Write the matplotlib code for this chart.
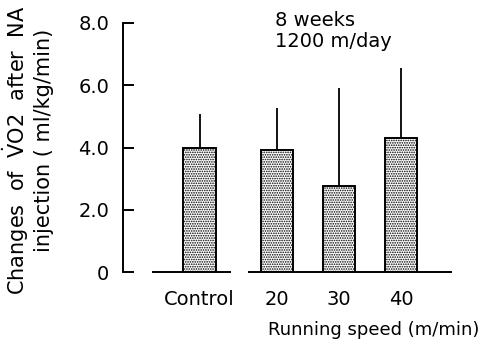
import matplotlib.pyplot as plt

plt.rcParams['font.family'] = 'DejaVu Sans'
plt.rcParams['mathtext.fontset'] = 'dejavusans'
plt.rcParams['hatch.linewidth'] = 0.8

groups = ["Control", "20", "30", "40"]
means = [4.0, 3.93, 2.77, 4.29]
sd_up = [1.08, 1.34, 3.15, 2.27]
yticks = [0, 2.0, 4.0, 6.0, 8.0]
ytick_labels = ["0", "2.0", "4.0", "6.0", "8.0"]

W, H = 487, 345
fig = plt.figure(figsize=(W / 100, H / 100), dpi=100)
ax = fig.add_axes([123 / W, (H - 272) / H, (452 - 123) / W, 249 / H])

pos = [0, 1.25, 2.25, 3.25]
ax.bar(pos, means, width=0.52, color="white", edgecolor="black",
       linewidth=1.4, hatch=".......", zorder=2)
ax.errorbar(pos, means, yerr=[[0] * 4, sd_up], fmt="none", ecolor="black",
            elinewidth=1.3, capsize=0, zorder=1)

# broken baseline
ax.hlines(0, -0.77, 0.51, color="black", lw=1.4, clip_on=False)
ax.hlines(0, 0.78, 4.07, color="black", lw=1.4, clip_on=False)

ax.set_xlim(-1.234, 4.07)
ax.set_ylim(0, 8.0)
for s in ["top", "right", "bottom"]:
    ax.spines[s].set_visible(False)
ax.spines["left"].set_linewidth(1.4)
ax.set_yticks(yticks)
ax.set_yticklabels(ytick_labels, fontsize=14)
ax.tick_params(axis="y", direction="in", length=8, width=1.4, pad=10)
ax.set_xticks(pos)
ax.set_xticklabels(groups, fontsize=14)
ax.tick_params(axis="x", length=0, pad=13)

fig.text(268 / W, 1 - 330 / H, "Running speed (m/min)", fontsize=13,
         ha="left", va="center")
fig.text(275 / W, 1 - 31 / H, "8 weeks\n1200 m/day", fontsize=14,
         ha="left", va="center", linespacing=1.15)

fig.text(16 / W, 1 - 150 / H, r"Changes  of  $\dot{\mathrm{V}}$O2  after  NA",
         fontsize=15, rotation=90, ha="center", va="center")
fig.text(44 / W, 1 - 140 / H, "injection ( ml/kg/min)",
         fontsize=15, rotation=90, ha="center", va="center")

fig.savefig("out.png", dpi=100)
